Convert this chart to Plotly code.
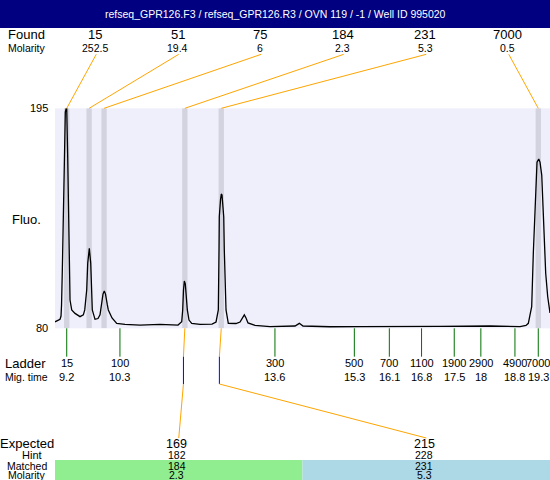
import plotly.graph_objects as go

# ---------------- data ----------------
title_text = "refseq_GPR126.F3 / refseq_GPR126.R3 / OVN 119 / -1 / Well ID 995020"

mig_time = [8.949, 9.014, 9.057, 9.078, 9.089, 9.106, 9.127, 9.149, 9.170, 9.189, 9.200,
            9.221, 9.243, 9.256, 9.271, 9.307, 9.378, 9.485, 9.556, 9.586, 9.628, 9.650,
            9.671, 9.684, 9.714, 9.727, 9.748, 9.806, 9.870, 9.913, 9.950, 9.977, 10.005,
            10.031, 10.070, 10.091, 10.170, 10.271, 10.449, 10.770, 11.198, 11.584, 11.663,
            11.684, 11.701, 11.719, 11.740, 11.762, 11.783, 11.819, 11.877, 12.055, 12.312,
            12.398, 12.430, 12.447, 12.462, 12.468, 12.494, 12.511, 12.526, 12.563, 12.575,
            12.612, 12.661, 12.826, 12.912, 12.965, 13.004, 13.040, 13.083, 13.233, 13.554,
            14.090, 14.182, 14.261, 14.839, 15.482, 16.339, 17.195, 18.266, 18.909, 19.037,
            19.087, 19.123, 19.159, 19.194, 19.230, 19.245, 19.273, 19.310, 19.337, 19.374,
            19.408, 19.429, 19.459, 19.502, 19.530, 19.551]
fluo = [83.4, 84.1, 84.7, 86.4, 92.2, 110.5, 135.0, 169.5, 193.0, 195.0, 195.0,
        169.5, 135.0, 110.5, 94.8, 89.6, 87.8, 86.1, 87.0, 89.6, 100.0, 114.1,
        120.9, 121.8, 114.1, 100.0, 89.6, 84.7, 85.1, 87.0, 92.2, 97.9, 99.5,
        97.9, 92.2, 89.6, 85.4, 82.6, 82.0, 81.7, 82.0, 81.7, 83.4,
        89.6, 100.0, 104.7, 103.2, 95.8, 89.6, 84.3, 82.6, 82.0, 82.2,
        83.3, 87.0, 89.6, 120.9, 138.3, 147.1, 150.2, 149.7, 138.3, 120.9,
        89.6, 82.6, 82.5, 83.3, 85.9, 87.0, 85.4, 82.8, 81.5, 80.9,
        81.2, 82.6, 81.2, 80.8, 80.9, 80.8, 81.0, 81.2, 80.9, 81.5,
        82.6, 87.0, 91.3, 119.4, 143.6, 154.0, 166.9, 168.5, 166.9, 160.1,
        140.3, 119.4, 108.8, 96.5, 89.6, 88.0]

found_sizes = ["15", "51", "75", "184", "231", "7000"]
found_molarity = ["252.5", "19.4", "6", "2.3", "5.3", "0.5"]
found_times = [9.20, 9.68, 10.00, 11.73, 12.51, 19.30]

ladder_sizes = ["15", "100", "300", "500", "700", "1100", "1900", "2900", "4900", "7000"]
ladder_times = [9.20, 10.34, 13.66, 15.36, 16.11, 16.80, 17.50, 18.07, 18.80, 19.30]
ladder_time_labels = ["9.2", "10.3", "13.6", "15.3", "16.1", "16.8", "17.5", "18", "18.8", "19.3"]

expected_sizes = ["169", "215"]
hint_sizes = ["182", "228"]
matched_sizes = ["184", "231"]
matched_molarity = ["2.3", "5.3"]
expected_times = [11.70, 12.47]
matched_found_index = [3, 4]
cell_colors = ["#90EE90", "#ADD8E6"]

y_range = [80, 195]
x_range = [8.949, 19.551]

# ---------------- layout helpers ----------------
W, H = 550, 480
PL = 55.0
PT, PB = 108.3, 328.3
FONT = "Liberation Sans, Arial, sans-serif"
ORANGE = "#FFA500"
GREEN = "#007000"


def xp(px):
    return px / W


def yp(py):
    return 1 - py / H


def px_to_t(px):
    return x_range[0] + (px - PL) / (W - PL) * (x_range[1] - x_range[0])


def txt(x, y, s, size, xref="paper", yref="paper", xanchor="center", color="black", pad=1):
    return dict(x=x, y=y, text=s, showarrow=False, xref=xref, yref=yref,
                xanchor=xanchor, yanchor="middle", borderpad=pad,
                font=dict(family=FONT, size=size, color=color))


def seg(x0, y0, x1, y1, color, xref="x", width=1):
    return dict(type="line", xref=xref, yref="paper", x0=x0, y0=y0, x1=x1, y1=y1,
                line=dict(color=color, width=width))


shapes = []
ann = []

# title bar
shapes.append(dict(type="rect", xref="paper", yref="paper", x0=0, x1=1, y0=yp(28), y1=1,
                   fillcolor="#000080", line=dict(width=0)))
ann.append(txt(xp(275), yp(14), title_text, 10.5, color="white"))

# peak bands
BW = 0.057
for t in found_times:
    shapes.append(dict(type="rect", xref="x", yref="y", x0=t - BW, x1=t + BW,
                       y0=y_range[0], y1=y_range[1], fillcolor="#D3D3DF",
                       line=dict(width=0), layer="below"))

# Found header
ann.append(txt(xp(26), yp(35), "Found", 13))
ann.append(txt(xp(27), yp(48), "Molarity", 10.5))
ncol = len(found_sizes)
for k in range(ncol):
    cx = PL + (W - PL) / ncol * (k + 0.5) - 1
    ann.append(txt(xp(cx), yp(35), found_sizes[k], 13))
    ann.append(txt(xp(cx), yp(48), found_molarity[k], 10.5))
    shapes.append(seg(px_to_t(cx + 1), yp(54.3), found_times[k], yp(PT), ORANGE))

# y labels
ann.append(txt(xp(50), y_range[1], str(y_range[1]), 11, yref="y", xanchor="right"))
ann.append(txt(xp(50), y_range[0], str(y_range[0]), 11, yref="y", xanchor="right"))
ann.append(txt(xp(26.5), yp(220), "Fluo.", 13))

# ladder
ann.append(txt(xp(25), yp(363), "Ladder", 13))
ann.append(txt(xp(26), yp(377), "Mig. time", 10.5))
for s, t, lab in zip(ladder_sizes, ladder_times, ladder_time_labels):
    shapes.append(seg(t, yp(PB), t, yp(356.7), GREEN))
    ann.append(txt(t, yp(363), s, 11, xref="x"))
    ann.append(txt(t, yp(377), lab, 11, xref="x"))

# expected connectors + table
ncell = len(expected_sizes)
cw = (W - PL) / ncell
for i in range(ncell):
    tf = found_times[matched_found_index[i]]
    te = expected_times[i]
    cx = PL + cw * (i + 0.5)
    shapes.append(seg(tf, yp(PB), te, yp(356.7), ORANGE))
    shapes.append(seg(te, yp(356.7), te, yp(384), "#0000FF"))
    shapes.append(seg(te, yp(384), px_to_t(cx), yp(438), ORANGE))
    shapes.append(dict(type="rect", xref="paper", yref="paper", x0=xp(PL + cw * i),
                       x1=xp(PL + cw * (i + 1)), y0=0, y1=yp(460),
                       fillcolor=cell_colors[i], line=dict(width=0)))
    ann.append(txt(xp(cx - 2), yp(444), expected_sizes[i], 12.5, pad=0))
    ann.append(txt(xp(cx - 2), yp(455), hint_sizes[i], 10.5, pad=0))
    ann.append(txt(xp(cx - 2), yp(465.5), matched_sizes[i], 10.5, pad=0))
    ann.append(txt(xp(cx - 2), yp(474.5), matched_molarity[i], 10.5, pad=0))

ann.append(txt(xp(26.5), yp(443.5), "Expected", 13, pad=0))
ann.append(txt(xp(32), yp(455), "Hint", 11, pad=0))
ann.append(txt(xp(26.5), yp(465.5), "Matched", 10.5, pad=0))
ann.append(txt(xp(26.5), yp(474.5), "Molarity", 10.5, pad=0))

fig = go.Figure()
fig.add_trace(go.Scatter(x=mig_time, y=fluo, mode="lines",
                         line=dict(color="black", width=1.3), hoverinfo="skip"))

fig.update_layout(
    width=W, height=H, margin=dict(l=0, r=0, t=0, b=0),
    paper_bgcolor="white", plot_bgcolor="#EFEFFB", showlegend=False,
    xaxis=dict(domain=[xp(PL), 1], range=x_range, visible=False, fixedrange=True),
    yaxis=dict(domain=[yp(PB), yp(PT)], range=y_range, visible=False, fixedrange=True),
    shapes=shapes, annotations=ann,
)

fig.write_html(
    "out.html",
    config={"displayModeBar": False, "staticPlot": True},
    post_script="document.body.style.margin='0';document.body.style.padding='0';"
                "document.body.style.overflow='hidden';",
)
